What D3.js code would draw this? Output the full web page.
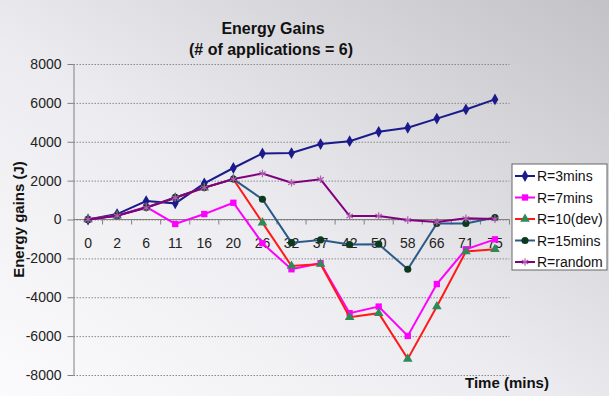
<!DOCTYPE html>
<html>
<head>
<meta charset="utf-8">
<script src="https://cdn.jsdelivr.net/npm/d3@7"></script>
<style>
  body { margin: 0; }
  text { font-family: Arial, "Liberation Sans", sans-serif; }
</style>
</head>
<body>
<div id="chart"></div>
<script>
// data
const categories = ["0", "2", "6", "11", "16", "20", "26", "32", "37", "42", "50", "58", "66", "71", "75"];
const r3mins   = [0, 280, 950, 830, 1860, 2650, 3400, 3420, 3880, 4030, 4510, 4720, 5190, 5660, 6180];
const r7mins   = [0, 200, 650, -230, 280, 860, -1220, -2560, -2250, -4820, -4480, -5990, -3320, -1530, -1020];
const r10dev   = [0, 200, 620, 1120, 1630, 2080, -160, -2390, -2290, -5030, -4820, -7170, -4480, -1650, -1530];
const r15mins  = [0, 200, 620, 1140, 1640, 2080, 1040, -1190, -1050, -1290, -1270, -2560, -200, -200, 100];
const rrandom  = [0, 190, 600, 1120, 1640, 2080, 2370, 1890, 2070, 180, 180, -30, -130, 60, 20];
const yTicks = [-8000, -6000, -4000, -2000, 0, 2000, 4000, 6000, 8000];

const series = [
    {name: "R=3mins",   values: r3mins,  line: "#1a1a8c", fill: "#1a1a8c", shape: d3.symbolDiamond, size: 40},
    {name: "R=7mins",   values: r7mins,  line: "#ff00ff", fill: "#ff00ff", shape: d3.symbolSquare, size: 40},
    {name: "R=10(dev)", values: r10dev,  line: "#ff1a1a", fill: "#2e8b57", shape: d3.symbolTriangle, size: 40},
    {name: "R=15mins",  values: r15mins, line: "#2b5a8a", fill: "#0d3a1e", shape: d3.symbolCircle, size: 40},
    {name: "R=random",  values: rrandom, line: "#800080", fill: "none", stroke: "#b060b0", shape: d3.symbolAsterisk, size: 40}
];

let svg_width = 609, svg_height = 396;
let plot = {left: 73.5, right: 509.5, top: 64, bottom: 375};

let svg = d3.select("#chart").append("svg")
    .attr("width", svg_width)
    .attr("height", svg_height);

let grad = svg.append("defs").append("linearGradient")
    .attr("id", "bg")
    .attr("x1", 0).attr("y1", 1).attr("x2", 1).attr("y2", 0);
grad.append("stop").attr("offset", "0%").attr("stop-color", "#fbfbfd");
grad.append("stop").attr("offset", "45%").attr("stop-color", "#ecebef");
grad.append("stop").attr("offset", "100%").attr("stop-color", "#c3c2c7");

svg.append("rect")
    .attr("width", svg_width)
    .attr("height", svg_height)
    .attr("fill", "url(#bg)");

let x = d3.scalePoint()
    .domain(categories)
    .range([plot.left, plot.right])
    .padding(0.5);
let y = d3.scaleLinear()
    .domain([-8000, 8000])
    .range([plot.bottom, plot.top]);

// gridlines
svg.append("g")
    .attr("transform", "translate(" + plot.left + ",0)")
    .call(d3.axisLeft(y).tickValues(yTicks).tickSize(-(plot.right - plot.left)).tickFormat(""))
    .call(g => g.select(".domain").remove())
    .call(g => g.selectAll("line")
        .attr("stroke", "#8a8a8a")
        .attr("stroke-dasharray", "1.5,1.5"));

// y axis
svg.append("g")
    .attr("transform", "translate(" + plot.left + ",0)")
    .call(d3.axisLeft(y).tickValues(yTicks).tickSize(6).tickPadding(6).tickSizeOuter(0)
        .tickFormat(d => String(d)))
    .call(g => g.select(".domain").attr("stroke", "#808080"))
    .call(g => g.selectAll(".tick line").attr("stroke", "#808080"))
    .call(g => g.selectAll("text")
        .attr("font-size", 14)
        .attr("fill", "#222")
        .style("font-family", "Arial, 'Liberation Sans', sans-serif"));

// x axis on the zero line
let xAxis = svg.append("g")
    .attr("transform", "translate(0," + y(0) + ")");
xAxis.append("line")
    .attr("x1", plot.left).attr("x2", plot.right)
    .attr("stroke", "#808080");
let step = x.step();
xAxis.selectAll(".btick")
    .data(categories)
    .enter().append("line")
    .attr("x1", d => x(d) + step / 2)
    .attr("x2", d => x(d) + step / 2)
    .attr("y1", 0).attr("y2", 5)
    .attr("stroke", "#808080");
xAxis.selectAll(".xlabel")
    .data(categories)
    .enter().append("text")
    .attr("x", d => x(d))
    .attr("y", 28)
    .attr("text-anchor", "middle")
    .attr("font-size", 14)
    .attr("fill", "#222")
    .text(d => d);

// lines and markers
let line = d3.line()
    .x((_, i) => x(categories[i]))
    .y(v => y(v));

for (const s of series) {
    svg.append("path")
        .attr("d", line(s.values))
        .attr("fill", "none")
        .attr("stroke", s.line)
        .attr("stroke-width", 2);
    svg.append("g").selectAll("path")
        .data(s.values)
        .enter().append("path")
        .attr("transform", (v, i) => "translate(" + x(categories[i]) + "," + y(v) + ")")
        .attr("d", d3.symbol().type(s.shape).size(s.size))
        .attr("fill", s.fill)
        .attr("stroke", s.stroke || "none")
        .attr("stroke-width", 1.2);
}

// titles
svg.append("text")
    .attr("x", 273).attr("y", 34)
    .attr("text-anchor", "middle")
    .attr("font-size", 16).attr("font-weight", "bold")
    .attr("fill", "#111")
    .text("Energy Gains");
svg.append("text")
    .attr("x", 271).attr("y", 55)
    .attr("text-anchor", "middle")
    .attr("font-size", 16).attr("font-weight", "bold")
    .attr("fill", "#111")
    .text("(# of applications = 6)");
svg.append("text")
    .attr("transform", "translate(24," + y(0) + ") rotate(-90)")
    .attr("text-anchor", "middle")
    .attr("font-size", 15).attr("font-weight", "bold")
    .attr("fill", "#111")
    .text("Energy gains (J)");
svg.append("text")
    .attr("x", 507).attr("y", 388)
    .attr("text-anchor", "middle")
    .attr("font-size", 15).attr("font-weight", "bold")
    .attr("fill", "#111")
    .text("Time (mins)");

// legend
let legend = svg.append("g").attr("transform", "translate(512,164)");
legend.append("rect")
    .attr("width", 95).attr("height", 106)
    .attr("fill", "#ffffff")
    .attr("stroke", "#666");
series.forEach((s, i) => {
    let row = legend.append("g").attr("transform", "translate(0," + (12 + i * 21.5) + ")");
    row.append("line")
        .attr("x1", 3).attr("x2", 23)
        .attr("stroke", s.line).attr("stroke-width", 2);
    row.append("path")
        .attr("transform", "translate(13,0)")
        .attr("d", d3.symbol().type(s.shape).size(s.size))
        .attr("fill", s.fill)
        .attr("stroke", s.stroke || "none")
        .attr("stroke-width", 1.2);
    row.append("text")
        .attr("x", 25).attr("y", 5)
        .attr("font-size", 14)
        .attr("fill", "#111")
        .text(s.name);
});
</script>
</body>
</html>
